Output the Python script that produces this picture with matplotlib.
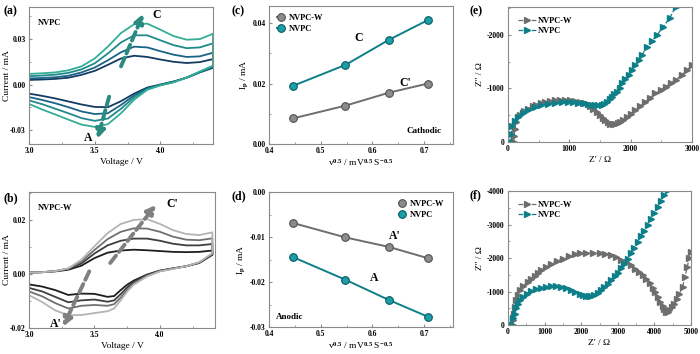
import matplotlib
matplotlib.use("Agg")
import matplotlib.pyplot as plt
from matplotlib.ticker import AutoMinorLocator, FormatStrFormatter

plt.rcParams["font.family"] = "Liberation Serif"
plt.rcParams["font.weight"] = "bold"
plt.rcParams["axes.unicode_minus"] = False
plt.rcParams["mathtext.fontset"] = "custom"
plt.rcParams["mathtext.rm"] = "Liberation Serif:bold"
plt.rcParams["mathtext.it"] = "Liberation Serif:bold:italic"
plt.rcParams["mathtext.bf"] = "Liberation Serif:bold"

# ---- (a) CV of NVPC, 4 scan rates ----
v_fwd = [3.0, 3.1, 3.2, 3.3, 3.4, 3.5, 3.6, 3.7, 3.8, 3.9, 4.0, 4.1, 4.2, 4.3, 4.4]
a_fwd = [
    [.0030, .0033, .0037, .0045, .0064, .0090, .0130, .0172, .0190, .0182, .0165, .0150, .0142, .0148, .0168],
    [.0040, .0043, .0048, .0058, .0080, .0112, .0160, .0213, .0250, .0245, .0220, .0197, .0182, .0186, .0210],
    [.0055, .0059, .0065, .0077, .0100, .0140, .0205, .0278, .0325, .0325, .0292, .0260, .0240, .0245, .0272],
    [.0070, .0074, .0080, .0094, .0120, .0172, .0250, .0340, .0398, .0402, .0362, .0320, .0296, .0300, .0335],
]
v_rev = [4.4, 4.3, 4.2, 4.1, 4.0, 3.9, 3.8, 3.7, 3.6, 3.5, 3.4, 3.3, 3.2, 3.1, 3.0]
a_rev = [
    [.0110, .0080, .0045, .0020, .0000, -.0020, -.0060, -.0110, -.0150, -.0148, -.0132, -.0112, -.0092, -.0075, -.0060],
    [.0115, .0082, .0045, .0018, -.0002, -.0025, -.0072, -.0135, -.0190, -.0195, -.0178, -.0150, -.0124, -.0102, -.0083],
    [.0120, .0084, .0046, .0016, -.0004, -.0030, -.0085, -.0160, -.0225, -.0240, -.0222, -.0190, -.0160, -.0130, -.0105],
    [.0125, .0086, .0046, .0014, -.0006, -.0035, -.0100, -.0190, -.0262, -.0280, -.0265, -.0232, -.0198, -.0165, -.0128],
]
a_colors = ["#143c62", "#1b6485", "#1f8a8c", "#33ad95"]

# ---- (b) CV of NVPC-W ----
vb_rev = [4.4, 4.3, 4.2, 4.1, 4.0, 3.9, 3.8, 3.75, 3.7, 3.65, 3.6, 3.5, 3.4, 3.3, 3.2, 3.1, 3.0]
b_fwd = [
    [.0005, .0006, .0009, .0015, .0030, .0058, .0078, .0086, .0089, .0087, .0084, .0081, .0080, .0081, .0086],
    [.0005, .0006, .0010, .0018, .0038, .0075, .0105, .0122, .0130, .0130, .0122, .0111, .0105, .0105, .0110],
    [.0005, .0006, .0010, .0019, .0045, .0088, .0128, .0155, .0168, .0167, .0155, .0137, .0126, .0124, .0131],
    [.0005, .0006, .0010, .0020, .0052, .0102, .0150, .0184, .0199, .0202, .0184, .0161, .0147, .0143, .0153],
]
b_rev = [
    [.0070, .0040, .0028, .0020, .0012, -.0003, -.0025, -.0040, -.0060, -.0082, -.0085, -.0074, -.0073, -.0078, -.0060, -.0047, -.0039],
    [.0072, .0041, .0028, .0020, .0011, -.0005, -.0030, -.0050, -.0075, -.0098, -.0103, -.0095, -.0098, -.0105, -.0085, -.0065, -.0052],
    [.0074, .0042, .0028, .0019, .0010, -.0008, -.0035, -.0058, -.0088, -.0112, -.0118, -.0115, -.0118, -.0128, -.0108, -.0083, -.0065],
    [.0076, .0043, .0028, .0018, .0009, -.0010, -.0040, -.0065, -.0098, -.0128, -.0138, -.0145, -.0152, -.0153, -.0135, -.0104, -.0079],
]
b_colors = ["#1e1e1e", "#3f3f3f", "#707070", "#b4b4b4"]

# ---- (c), (d) peak current vs sqrt(scan rate) ----
sqrt_v = [0.447, 0.548, 0.632, 0.707]
ipc_w = [0.0085, 0.0127, 0.0170, 0.0200]
ipc_n = [0.0193, 0.0262, 0.0345, 0.0410]
ipa_w = [-0.0069, -0.0101, -0.0122, -0.0147]
ipa_n = [-0.0145, -0.0195, -0.0240, -0.0277]

# ---- (e) EIS before ----
e_w_x = [95, 100, 109, 130, 191, 260, 328, 400, 464, 530, 601, 680, 765, 850, 929, 1010, 1093, 1175, 1257,
         1330, 1393, 1450, 1503, 1545, 1585, 1625, 1667, 1710, 1749, 1790, 1831, 1880, 1940, 2010, 2077,
         2160, 2240, 2320, 2404, 2490, 2568, 2650, 2732, 2830, 2923, 3000]
e_w_y = [0, -120, -250, -380, -500, -570, -625, -665, -700, -728, -750, -768, -781, -784, -781, -775, -762,
         -745, -719, -680, -625, -565, -500, -450, -406, -372, -344, -333, -331, -348, -375, -420, -469, -530,
         -594, -670, -750, -830, -906, -970, -1031, -1095, -1156, -1250, -1344, -1440]
e_n_x = [50, 55, 70, 110, 164, 240, 328, 440, 546, 655, 765, 875, 984, 1065, 1148, 1230, 1311, 1370, 1421,
         1475, 1530, 1570, 1612, 1655, 1694, 1735, 1776, 1820, 1858, 1910, 1967, 2020, 2077, 2130, 2186,
         2268, 2350, 2432, 2530, 2634, 2732]
e_n_y = [0, -150, -300, -400, -469, -535, -594, -645, -687, -712, -731, -743, -750, -745, -737, -722, -706,
         -695, -687, -685, -690, -712, -750, -795, -844, -890, -937, -1010, -1094, -1170, -1250, -1340, -1437,
         -1530, -1625, -1781, -1890, -2000, -2150, -2312, -2519]

# ---- (f) EIS after ----
f_w_x = [130, 140, 164, 190, 227, 270, 318, 420, 545, 640, 727, 820, 909, 1040, 1182, 1340, 1500, 1660,
         1818, 1980, 2136, 2320, 2500, 2660, 2818, 2950, 3091, 3230, 3364, 3480, 3591, 3690, 3773, 3870,
         3955, 4030, 4091, 4160, 4227, 4270, 4318, 4360, 4409, 4470, 4545, 4610, 4682, 4770, 4840, 4900,
         4950, 4990]
f_w_y = [0, -150, -340, -540, -740, -900, -1040, -1170, -1290, -1380, -1460, -1550, -1640, -1740, -1840,
         -1920, -1990, -2060, -2110, -2140, -2160, -2155, -2140, -2120, -2090, -2030, -1960, -1880, -1790,
         -1690, -1590, -1490, -1390, -1260, -1120, -980, -840, -700, -560, -470, -390, -395, -440, -530,
         -640, -780, -940, -1150, -1450, -1750, -2000, -2180]
f_n_x = [120, 135, 182, 230, 273, 340, 409, 520, 636, 770, 909, 1040, 1182, 1320, 1455, 1590, 1727, 1840,
         1955, 2050, 2136, 2200, 2273, 2360, 2455, 2545, 2636, 2727, 2818, 2910, 3000, 3090, 3182, 3273,
         3364, 3455, 3545, 3636, 3727, 3818, 3909, 4000, 4091, 4180, 4270, 4360]
f_n_y = [0, -200, -340, -500, -640, -750, -840, -940, -1020, -1075, -1120, -1145, -1160, -1155, -1140,
         -1105, -1060, -1000, -940, -895, -860, -858, -870, -905, -960, -1040, -1140, -1240, -1340, -1460,
         -1560, -1700, -1840, -1990, -2150, -2310, -2480, -2650, -2820, -3000, -3180, -3360, -3540, -3710,
         -3880, -4050]

teal = "#0d7f88"
gray = "#6e6e6e"
tfs = 5.5
lfs = 6.8


def style(ax):
    for s in ax.spines.values():
        s.set_color("#8a8a8a")
        s.set_linewidth(0.8)
    ax.tick_params(which="both", direction="in", labelsize=tfs, color="#8a8a8a", pad=2.5)
    ax.tick_params(which="major", length=2.5)
    ax.tick_params(which="minor", length=1.5)
    ax.xaxis.set_minor_locator(AutoMinorLocator(2))
    ax.yaxis.set_minor_locator(AutoMinorLocator(2))


fig = plt.figure(figsize=(7, 3.54), dpi=100)
W, H = 700, 354


def axes_px(l, t, r, b):
    return fig.add_axes([l / W, 1 - b / H, (r - l) / W, (b - t) / H])


arrow_kw = dict(arrowstyle="-|>", lw=2.8, ls=(0, (2.4, 1.2)), mutation_scale=13, shrinkA=0, shrinkB=0)

# (a)
ax = axes_px(29, 7, 213, 144)
for i in range(4):
    ax.plot(v_fwd + v_rev, a_fwd[i] + a_rev[i], color=a_colors[i], lw=1.3)
ax.set_xlim(3.0, 4.4)
ax.set_ylim(-0.0393, 0.0512)
ax.set_xticks([3.0, 3.5, 4.0])
ax.set_yticks([-0.03, 0.0, 0.03])
ax.yaxis.set_major_formatter(FormatStrFormatter("%.2f"))
ax.xaxis.set_major_formatter(FormatStrFormatter("%.1f"))
style(ax)
ax.set_xlabel("Voltage / V", fontsize=lfs, labelpad=2)
ax.set_ylabel("Current / mA", fontsize=lfs)
ax.yaxis.set_label_coords(-0.098, 0.5)
ax.text(0.05, 0.87, "NVPC", transform=ax.transAxes, fontsize=6)
ax.annotate("", xy=(3.87, 0.0468), xytext=(3.70, 0.012), arrowprops=dict(color="#2a8a80", **arrow_kw))
ax.annotate("", xy=(3.52, -0.036), xytext=(3.61, -0.008), arrowprops=dict(color="#2a8a80", **arrow_kw))
ax.text(3.94, 0.044, "C", fontsize=8.5)
ax.text(3.42, -0.0375, "A", fontsize=8.5)

# (b)
ax = axes_px(29, 192, 215, 328)
for i in range(4):
    ax.plot(v_fwd + vb_rev, b_fwd[i] + b_rev[i], color=b_colors[i], lw=1.3)
ax.set_xlim(3.0, 4.42)
ax.set_ylim(-0.02, 0.0302)
ax.set_xticks([3.0, 3.5, 4.0])
ax.set_yticks([-0.02, 0.0, 0.02])
ax.yaxis.set_major_formatter(FormatStrFormatter("%.2f"))
ax.xaxis.set_major_formatter(FormatStrFormatter("%.1f"))
style(ax)
ax.set_xlabel("Voltage / V", fontsize=lfs, labelpad=2)
ax.set_ylabel("Current / mA", fontsize=lfs)
ax.yaxis.set_label_coords(-0.097, 0.5)
ax.text(0.05, 0.87, "NVPC-W", transform=ax.transAxes, fontsize=6)
ax.annotate("", xy=(3.97, 0.0255), xytext=(3.62, 0.004), arrowprops=dict(color="#808080", **arrow_kw))
ax.annotate("", xy=(3.26, -0.0195), xytext=(3.46, 0.0009), arrowprops=dict(color="#808080", **arrow_kw))
ax.text(4.05, 0.0245, "C'", fontsize=8.5)
ax.text(3.16, -0.0195, "A'", fontsize=8.5)

# (c)
mk_w = dict(marker="o", ms=5.5, mfc="#8c8c8c", mec="#505050", mew=0.8)
mk_n = dict(marker="o", ms=5.5, mfc="#1b9ea8", mec="#0a5a60", mew=0.8)
ax = axes_px(269, 6, 453, 144)
ax.plot(sqrt_v, ipc_w, color=gray, lw=1.4, label="NVPC-W", **mk_w)
ax.plot(sqrt_v, ipc_n, color=teal, lw=1.4, label="NVPC", **mk_n)
ax.set_xlim(0.4, 0.756)
ax.set_ylim(0.0, 0.0457)
ax.set_xticks([0.4, 0.5, 0.6, 0.7])
ax.set_yticks([0.0, 0.02, 0.04])
ax.yaxis.set_major_formatter(FormatStrFormatter("%.2f"))
style(ax)
ax.set_xlabel("v$^{0.5}$ / mV$^{0.5}$ S$^{-0.5}$", fontsize=lfs, labelpad=1)
ax.set_ylabel("I$_\\mathrm{p}$ / mA", fontsize=lfs, labelpad=2)
ax.legend(loc="upper left", fontsize=6, frameon=False, handlelength=0.8, handletextpad=0.6,
          borderaxespad=0.6, labelspacing=0.3)
ax.text(0.565, 0.034, "C", fontsize=8.5)
ax.text(0.652, 0.0192, "C'", fontsize=8.5)
ax.text(0.70, 0.0036, "Cathodic", fontsize=6.5, ha="center")

# (d)
ax = axes_px(269, 192, 453, 327)
ax.plot(sqrt_v, ipa_w, color=gray, lw=1.4, label="NVPC-W", **mk_w)
ax.plot(sqrt_v, ipa_n, color=teal, lw=1.4, label="NVPC", **mk_n)
ax.set_xlim(0.4, 0.756)
ax.set_ylim(-0.03, 0.0)
ax.set_xticks([0.4, 0.5, 0.6, 0.7])
ax.set_yticks([-0.03, -0.02, -0.01, 0.0])
ax.yaxis.set_major_formatter(FormatStrFormatter("%.2f"))
style(ax)
ax.set_xlabel("v$^{0.5}$ / mV$^{0.5}$ S$^{-0.5}$", fontsize=lfs, labelpad=1)
ax.set_ylabel("I$_\\mathrm{p}$ / mA", fontsize=lfs, labelpad=2)
ax.legend(loc="upper right", fontsize=6, frameon=False, handlelength=0.8, handletextpad=0.6,
          borderaxespad=0.6, labelspacing=0.3)
ax.text(0.632, -0.0105, "A'", fontsize=8.5)
ax.text(0.595, -0.0198, "A", fontsize=8.5)
ax.text(0.44, -0.0282, "Anodic", fontsize=6.5, ha="center")

# (e)
eis_w = dict(color=gray, ls="--", lw=0.9, marker=">", ms=4.2, mfc=gray, mec=gray)
eis_n = dict(color=teal, ls="--", lw=0.9, marker=">", ms=4.2, mfc=teal, mec=teal)
ax = axes_px(508, 7, 692, 142)
ax.plot(e_w_x, e_w_y, label="NVPC-W", **eis_w)
ax.plot(e_n_x, e_n_y, label="NVPC", **eis_n)
ax.set_xlim(0, 3000)
ax.set_ylim(0, -2520)
ax.set_xticks([0, 1000, 2000, 3000])
ax.set_yticks([0, -1000, -2000])
style(ax)
ax.set_xlabel("Z' / \u03a9", fontsize=lfs, labelpad=2)
ax.set_ylabel("Z'' / \u03a9", fontsize=lfs, labelpad=2)
ax.legend(loc="upper left", fontsize=6, frameon=False, handlelength=2.2, handletextpad=0.2,
          borderaxespad=0.8, labelspacing=0.2)

# (f)
ax = axes_px(508, 191, 691, 325)
ax.plot(f_w_x, f_w_y, label="NVPC-W", **eis_w)
ax.plot(f_n_x, f_n_y, label="NVPC", **eis_n)
ax.set_xlim(0, 5000)
ax.set_ylim(0, -4010)
ax.set_xticks([0, 1000, 2000, 3000, 4000, 5000])
ax.set_yticks([0, -1000, -2000, -3000, -4000])
style(ax)
ax.set_xlabel("Z' / \u03a9", fontsize=lfs, labelpad=2)
ax.set_ylabel("Z'' / \u03a9", fontsize=lfs, labelpad=2)
ax.legend(loc="upper left", fontsize=6, frameon=False, handlelength=2.2, handletextpad=0.2,
          borderaxespad=0.8, labelspacing=0.2)

# panel letters
for lab, x, y in [("(a)", 3, 14), ("(b)", 3, 201), ("(c)", 231, 14),
                  ("(d)", 231, 199), ("(e)", 470, 14), ("(f)", 470, 198)]:
    fig.text(x / W, 1 - y / H, lab, fontsize=8.5)

fig.savefig("out.png", dpi=100)
